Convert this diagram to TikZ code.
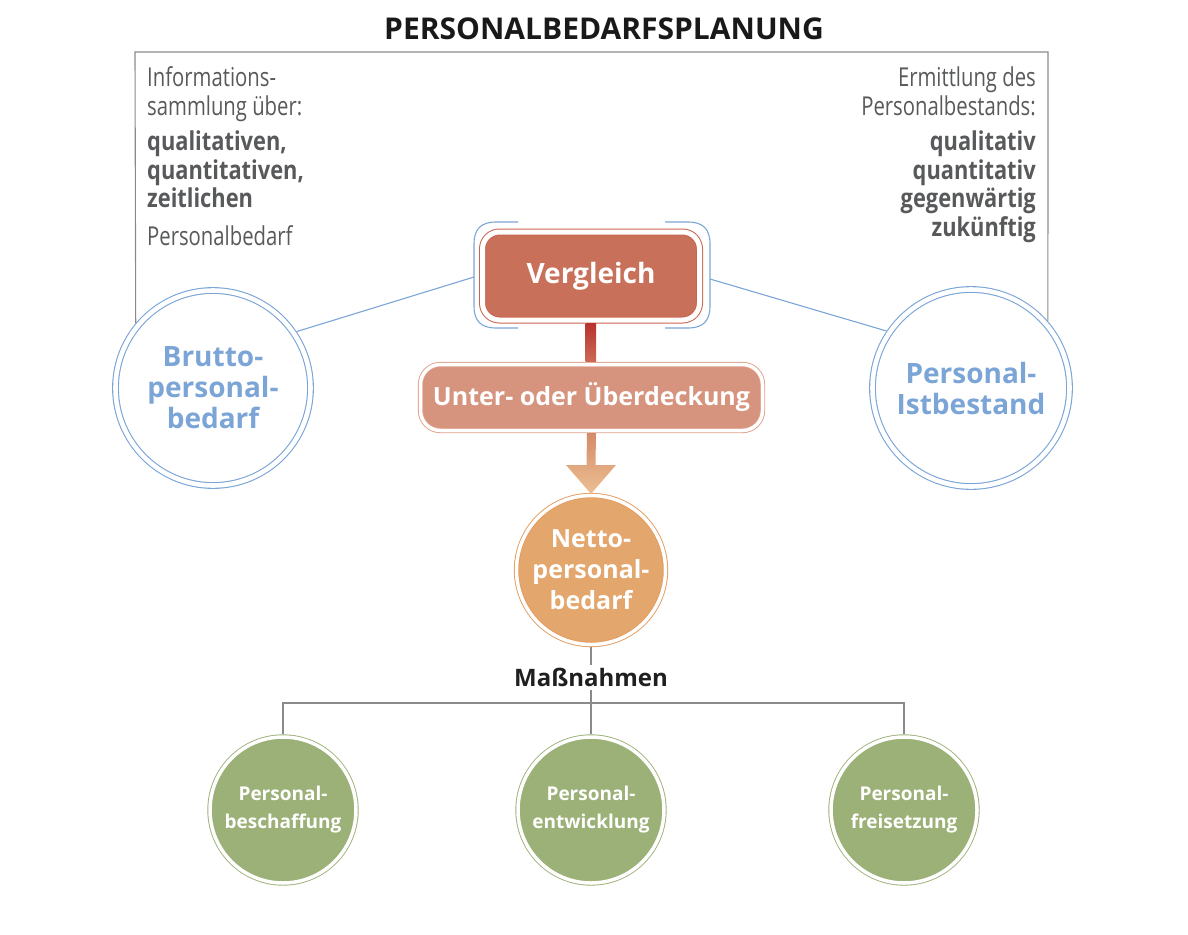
\documentclass[tikz,border=0pt]{standalone}
\usepackage{fontspec}
\setmainfont{Open Sans}
\newfontfamily\condf[FakeStretch=0.78]{Open Sans}
\newfontfamily\condb[FakeStretch=0.84]{Open Sans Bold}
\definecolor{bluec}{HTML}{7BA5D6}
\definecolor{grayline}{HTML}{8A8A8A}
\definecolor{graytext}{HTML}{58595B}
\definecolor{vergc}{HTML}{C87059}
\definecolor{vergline}{HTML}{C9654E}
\definecolor{unterc}{HTML}{D6947E}
\definecolor{unterline}{HTML}{E0A08A}
\definecolor{nettoc}{HTML}{E3A66C}
\definecolor{nettoline}{HTML}{E39B5E}
\definecolor{greenc}{HTML}{9CB177}
\definecolor{bartop}{HTML}{B8322E}
\definecolor{barbot}{HTML}{CC6A55}
\definecolor{arrtop}{HTML}{D58A68}
\definecolor{arrbot}{HTML}{ECC093}
\begin{document}
\begin{tikzpicture}[x=1pt,y=-1pt,
  graytxt/.style={inner sep=0pt, text=graytext, font=\condf\fontsize{26}{29}\selectfont},
  graybold/.style={inner sep=0pt, text=graytext, font=\condb\fontsize{26}{29}\selectfont},
  frameline/.style={draw=grayline, line width=1.1pt},
  bluecirc/.style={circle, draw=bluec, line width=1.1pt, double=white, double distance=4.6pt,
    inner sep=0pt, outer sep=3.4pt, text=bluec, align=center,
    font=\bfseries\fontsize{28}{31}\selectfont},
  blueline/.style={draw=bluec, line width=1.1pt},
  bracket/.style={draw=bluec, line width=1.1pt},
  boxnode/.style={rectangle, text=white, align=center, font=\bfseries},
  nettocirc/.style={circle, fill=nettoc, draw=nettoline, line width=0.9pt, double=white,
    double distance=3.5pt, inner sep=0pt, outer sep=2.6pt, minimum size=149pt,
    text=white, align=center, font=\bfseries\fontsize{25}{31}\selectfont},
  greencirc/.style={circle, fill=greenc, draw=greenc, line width=0.9pt, double=white,
    double distance=3.5pt, inner sep=0pt, outer sep=2.6pt, minimum size=146pt,
    text=white, align=center, font=\bfseries\fontsize{19}{28}\selectfont},
  treeline/.style={draw=grayline, line width=1.1pt}
]
\useasboundingbox (0,0) rectangle (1188,934);

% title
\node[anchor=base, inner sep=0pt, text=black!90, font=\bfseries\fontsize{30}{34}\selectfont] (title) at (604,40) {PERSONALBEDARFSPLANUNG};

% left text
\node[graytxt, anchor=base west] (l1) at (147,86) {Informations-};
\node[graytxt, anchor=base west] (l2) at (147,115) {sammlung über:};
\node[graybold, anchor=base west] (l3) at (147,150) {qualitativen,};
\node[graybold, anchor=base west] (l4) at (147,179) {quantitativen,};
\node[graybold, anchor=base west] (l5) at (147,207) {zeitlichen};
\node[graytxt, anchor=base west] (l6) at (147,245) {Personalbedarf};

% right text
\node[graytxt, anchor=base east] (r1) at (1036,86) {Ermittlung des};
\node[graytxt, anchor=base east] (r2) at (1036,115) {Personalbestands:};
\node[graybold, anchor=base east] (r3) at (1036,150) {qualitativ};
\node[graybold, anchor=base east] (r4) at (1036,179) {quantitativ};
\node[graybold, anchor=base east] (r5) at (1036,207) {gegenwärtig};
\node[graybold, anchor=base east] (r6) at (1036,236) {zukünftig};

% big circles
\node[bluecirc, minimum size=195pt] (brutto) at (213,388) {Brutto-\\personal-\\bedarf};
\node[bluecirc, minimum size=197pt] (ist) at (971,388) {Personal-\\Istbestand};

% frame
\coordinate (ftl) at (135,52);
\coordinate (ftr) at (1048,52);
\draw[frameline] (brutto.140.5) -- (ftl) -- (ftr) -- (ist.41);

% Vergleich
\node[boxnode, fill=vergc, draw=vergline, line width=1pt, double=white, double distance=5pt,
  rounded corners=17pt, minimum width=217pt, minimum height=88pt, outer sep=3.5pt,
  font=\bfseries\fontsize{28}{32}\selectfont] (verg) at (591,276) {Vergleich};

% bracket
\draw[bracket] (518,222) -- (496,222) .. controls (481,222) and (474,229) .. (474,244)
  -- (474,306) .. controls (474,321) and (481,328) .. (496,328) -- (518,328);
\draw[bracket] (665,222) -- (688,222) .. controls (703,222) and (710,229) .. (710,244)
  -- (710,306) .. controls (710,321) and (703,328) .. (688,328) -- (665,328);
\coordinate (lb) at (474,277);
\coordinate (rb) at (710,279);
\draw[blueline] (brutto.34) -- (lb);
\draw[blueline] (ist.146.6) -- (rb);

% Unter- oder Überdeckung
\node[boxnode, fill=unterc, draw=unterline, line width=0.9pt, double=white, double distance=3.5pt,
  rounded corners=20pt, minimum width=342pt, minimum height=66pt, outer sep=2.6pt,
  font=\bfseries\fontsize{25}{30}\selectfont] (unter) at (591.5,397.5) {Unter- oder Überdeckung};

% red bar
\shade[top color=bartop, bottom color=barbot] ([xshift=-5.5pt]verg.south) rectangle ([xshift=4.5pt]unter.north);

% Netto
\node[nettocirc] (netto) at (591,570) {Netto-\\personal-\\bedarf};

% arrow
\coordinate (ah) at (591,465);
\shade[top color=arrtop, bottom color=arrbot]
  ([xshift=-4.5pt]unter.south) -- ([xshift=4.5pt]unter.south) -- ([xshift=4.5pt]ah)
  -- ([xshift=25pt]ah) -- ([yshift=-1pt]netto.north) -- ([xshift=-25pt]ah) -- ([xshift=-4.5pt]ah) -- cycle;

% Massnahmen
\node[inner sep=3pt, text=black!88, font=\bfseries\fontsize{24}{28}\selectfont] (mass) at (591,677) {Maßnahmen};

% green circles
\node[greencirc] (g1) at (283,810) {Personal-\\beschaffung};
\node[greencirc] (g2) at (591,810) {Personal-\\entwicklung};
\node[greencirc] (g3) at (904,810) {Personal-\\freisetzung};

% tree lines
\coordinate (hb) at (591,703);
\draw[treeline] (netto.south) -- (mass.north);
\draw[treeline] (mass.south) -- (g2.north);
\draw[treeline] (g1.north) -- (g1.north |- hb) -- (g3.north |- hb) -- (g3.north);
\end{tikzpicture}
\end{document}
